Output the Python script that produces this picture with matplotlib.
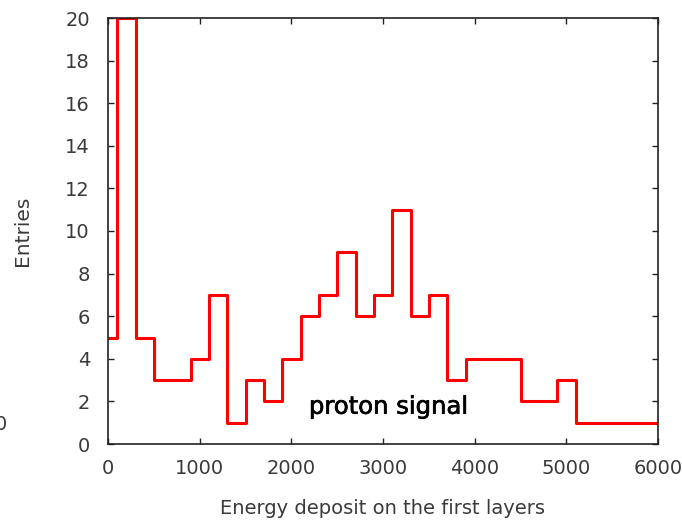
import numpy as np
import matplotlib
matplotlib.use('Agg')
import matplotlib.pyplot as plt
import matplotlib.patheffects as pe

# histogram bin centres (width 200) and counts
centers = [0, 200, 400, 600, 800, 1000, 1200, 1400, 1600, 1800,
           2000, 2200, 2400, 2600, 2800, 3000, 3200, 3400, 3600, 3800,
           4000, 4200, 4400, 4600, 4800, 5000, 5200, 5400, 5600, 5800, 6000]
counts = [5, 20, 5, 3, 3, 4, 7, 1, 3, 2,
          4, 6, 7, 9, 6, 7, 11, 6, 7, 3,
          4, 4, 4, 2, 2, 3, 1, 1, 1, 1, 1]

xticks = [0, 1000, 2000, 3000, 4000, 5000, 6000]
yticks = [0, 2, 4, 6, 8, 10, 12, 14, 16, 18, 20]

plt.rcParams['font.family'] = 'DejaVu Sans'
fig = plt.figure(figsize=(6.82, 5.2), dpi=100)
ax = fig.add_axes([108/682, 76/520, 550/682, 426/520])

# gnuplot-like histeps
ax.step(centers, counts, where='mid', color='#ff0000', lw=2.2, clip_on=True)

ax.set_xlim(0, 6000)
ax.set_ylim(0, 20)
ax.set_xticks(xticks)
ax.set_yticks(yticks)
ax.tick_params(direction='in', length=4, width=1, top=True, right=True,
               labelsize=14, labelcolor='#3a3a3a', color='#222222')
ax.tick_params(axis='y', pad=13)
ax.tick_params(axis='x', pad=11)
for s in ax.spines.values():
    s.set_color('#222222')
    s.set_linewidth(1.2)

ax.set_xlabel('Energy deposit on the first layers', fontsize=14, color='#3a3a3a', labelpad=15)
ax.set_ylabel('Entries', fontsize=14.5, color='#3a3a3a', labelpad=24)

ax.text(3060, 1.75, 'proton signal', fontsize=17.5,
        ha='center', va='center', color='black',
        path_effects=[pe.withStroke(linewidth=0.5, foreground='black')])

# stray label cut off at the left edge
fig.text(-0.008, 0.183, '0', fontsize=14, color='#3a3a3a', ha='left', va='center')

fig.savefig('out.png', dpi=100)
